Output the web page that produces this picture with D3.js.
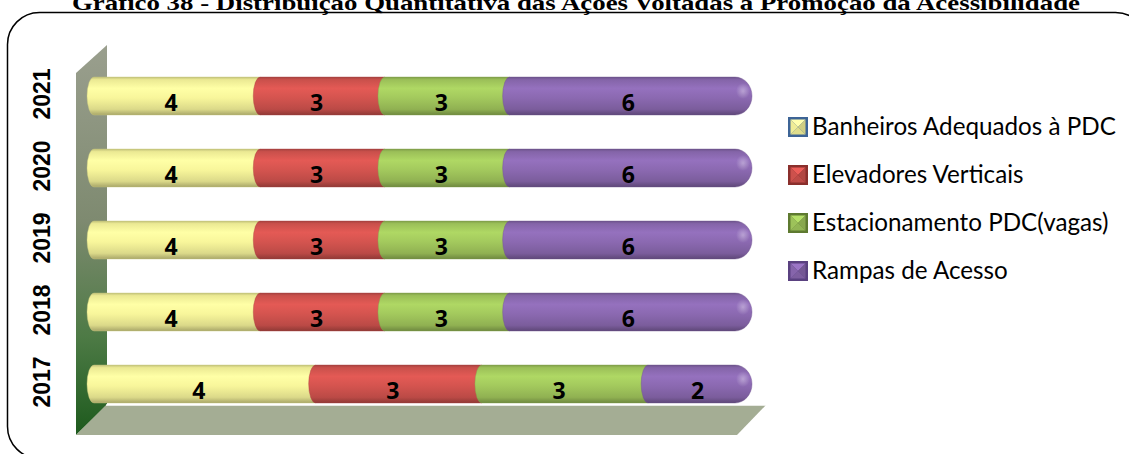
<!DOCTYPE html>
<html><head><meta charset="utf-8">
<script src="https://cdn.jsdelivr.net/npm/d3@7"></script>
<style>body{margin:0;background:#fff}svg{display:block}</style>
</head><body><svg id="c" width="1129" height="454"></svg>
<script>
const title = "Gráfico 38 - Distribuição Quantitativa das Ações Voltadas à Promoção da Acessibilidade";
const years = ["2017","2018","2019","2020","2021"];
const series = ["Banheiros Adequados à PDC","Elevadores Verticais","Estacionamento PDC(vagas)","Rampas de Acesso"];
const banheiros = [4,4,4,4,4];
const elevadores = [3,3,3,3,3];
const estacionamento = [3,3,3,3,3];
const rampas = [2,6,6,6,6];
const colors = ["#f8f69b","#d4544f","#a3c95d","#8b69b1"];
const legendBorders = ["#3d6496","#8a2f2c","#5e7a30","#5a4180"];

const values = [banheiros, elevadores, estacionamento, rampas];
const rows = years.map((y,i)=>{const r={year:y}; series.forEach((s,k)=>r[s]=values[k][i]); return r;});

const svg = d3.select("#c");
const defs = svg.append("defs");

// title
svg.append("text").attr("x",576).attr("y",10).attr("text-anchor","middle")
  .attr("font-family","Liberation Serif").attr("font-weight","bold").attr("font-size",21)
  .attr("textLength",1008).attr("lengthAdjust","spacingAndGlyphs").text(title);

// border
svg.append("rect").attr("x",7.5).attr("y",12.5).attr("width",1140).attr("height",446).attr("rx",32)
  .attr("fill","none").attr("stroke","#000").attr("stroke-width",1.5);

// scales
const x = d3.scaleLinear().domain([0,1]).range([87,752]);
const y = d3.scalePoint().domain(years.slice().reverse()).range([96,384]);
const h = 38;

// wall & floor
const wg = defs.append("linearGradient").attr("id","wall").attr("x1",0).attr("y1",0).attr("x2",0).attr("y2",1);
[[0,"#9a9f8e"],[0.45,"#7e8a70"],[0.75,"#4d7a45"],[1,"#1d5a1d"]].forEach(s=>wg.append("stop").attr("offset",s[0]).attr("stop-color",s[1]));
const wall = [[76,73],[107,45],[107,405],[76,435]];
svg.append("path").attr("d","M"+wall.join("L")+"Z").attr("fill","url(#wall)");
const floor = [[106,405],[766,405],[737,435],[76,435]];
svg.append("path").attr("d","M"+floor.join("L")+"Z").attr("fill","#a4ad94");
svg.append("line").attr("x1",106).attr("x2",766).attr("y1",405).attr("y2",405).attr("stroke","#fff").attr("stroke-width",1.5);

// bar gradients
colors.forEach((c,i)=>{
  const g = defs.append("linearGradient").attr("id","g"+i).attr("x1",0).attr("y1",0).attr("x2",0).attr("y2",1);
  const base = d3.color(c);
  [[0,base.darker(0.7)],[0.07,base.darker(0.15)],[0.3,base.brighter(0.2)],[0.55,base],[0.85,base.darker(0.35)],[1,base.darker(1.1)]]
    .forEach(s=>g.append("stop").attr("offset",s[0]).attr("stop-color",s[1].formatHex()));
});
const hl = defs.append("radialGradient").attr("id","hl");
hl.append("stop").attr("offset",0).attr("stop-color","#fff").attr("stop-opacity",0.35);
hl.append("stop").attr("offset",1).attr("stop-color","#fff").attr("stop-opacity",0);

const stack = d3.stack().keys(series).offset(d3.stackOffsetExpand)(rows);
const cap = 7, R = 17;
const gBars = svg.append("g");
stack.forEach((layer,k)=>{
  const last = k===stack.length-1;
  layer.forEach(d=>{
    const cy = y(d.data.year), top = cy-h/2, bot = cy+h/2;
    const x0 = x(d[0]), x1 = x(d[1]);
    let p;
    if(!last){
      p = `M${x0+cap},${top}H${x1+cap}V${bot}H${x0+cap}A${cap},${h/2} 0 0 1 ${x0+cap},${top}Z`;
    } else {
      p = `M${x0+cap},${top}H${x1-R}A${R},${h/2} 0 0 1 ${x1-R},${bot}H${x0+cap}A${cap},${h/2} 0 0 1 ${x0+cap},${top}Z`;
    }
    gBars.append("path").attr("d",p).attr("fill",`url(#g${k})`)
      .attr("stroke",d3.color(colors[k]).darker(0.6).formatHex()).attr("stroke-width",0.8).attr("stroke-opacity",0.5);
    if(last){
      gBars.append("ellipse").attr("cx",x1-9).attr("cy",cy-5).attr("rx",7).attr("ry",8).attr("fill","url(#hl)");
    }
  });
});
// value labels
stack.forEach((layer,k)=>{
  layer.forEach((d,i)=>{
    const cy = y(d.data.year);
    svg.append("text").attr("x",(x(d[0])+x(d[1]))/2+1).attr("y",cy+15).attr("text-anchor","middle")
      .attr("font-family","Open Sans").attr("font-weight","bold").attr("font-size",23).attr("fill","#000")
      .text(values[k][i]);
  });
});

// year labels
years.forEach(yr=>{
  svg.append("text").attr("transform",`translate(50,${y(yr)-2}) rotate(-90)`).attr("text-anchor","middle")
    .attr("font-family","Liberation Sans").attr("font-weight","bold").attr("font-size",23).text(yr);
});

// legend
const lg = svg.append("g");
series.forEach((s,i)=>{
  const cy = 127 + i*48, sx = 788, sz = 20, sy = cy-10;
  const g = lg.append("g");
  const c = d3.color(colors[i]);
  g.append("rect").attr("x",sx).attr("y",sy).attr("width",sz).attr("height",sz).attr("fill",legendBorders[i]);
  const ix=sx+2.5, iy=sy+2.5, is=sz-5, cx=ix+is/2, ccy=iy+is/2;
  const tris = [
    [[ix,iy],[ix+is,iy],[cx,ccy], c.brighter(0.3)],
    [[ix+is,iy],[ix+is,iy+is],[cx,ccy], c.darker(0.5)],
    [[ix,iy+is],[ix+is,iy+is],[cx,ccy], c.darker(0.3)],
    [[ix,iy],[ix,iy+is],[cx,ccy], c.darker(0.1)]
  ];
  tris.forEach(t=>g.append("path").attr("d",`M${t[0]}L${t[1]}L${t[2]}Z`).attr("fill",t[3].formatHex()));
  g.append("text").attr("class","lt").attr("x",812).attr("y",cy+8)
    .attr("font-family","Lato").attr("font-size",22).attr("fill","#000").text(s);
});
const t0 = lg.select(".lt").node();
const w0 = t0.getComputedTextLength();
const fs = 22*304/w0;
lg.selectAll(".lt").attr("font-size",fs);
</script></body></html>
